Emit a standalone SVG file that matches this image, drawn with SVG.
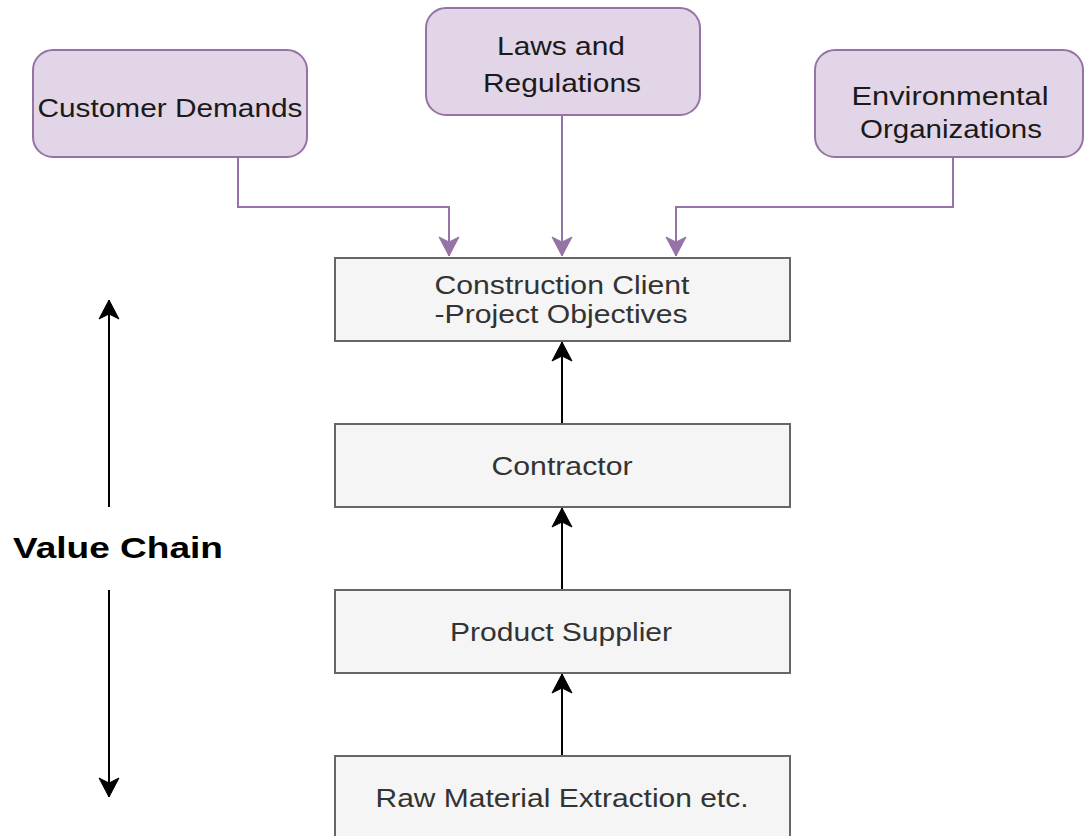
<svg xmlns="http://www.w3.org/2000/svg" width="1084" height="836" viewBox="0 0 1084 836">
<style>
.pbox{fill:#e1d5e7;stroke:#9673a6;stroke-width:2}
.gbox{fill:#f5f5f5;stroke:#666666;stroke-width:2}
.t{font-family:"Liberation Sans",Arial,Helvetica,sans-serif;font-size:25px;text-anchor:middle}
.tp{fill:#1a1a1a}
.tg{fill:#333333}
.pl{fill:none;stroke:#9673a6;stroke-width:2}
.bl{fill:none;stroke:#000000;stroke-width:2}
</style>
<defs>
<marker id="ap" viewBox="-21 -11 22 22" refX="0" refY="0" markerWidth="22" markerHeight="22" markerUnits="userSpaceOnUse" orient="auto">
<path d="M0,0 L-19,-10 L-14,0 L-19,10 Z" fill="#9673a6" stroke="#9673a6" stroke-width="1"/>
</marker>
<marker id="ab" viewBox="-21 -11 22 22" refX="0" refY="0" markerWidth="22" markerHeight="22" markerUnits="userSpaceOnUse" orient="auto">
<path d="M0,0 L-19,-10 L-14,0 L-19,10 Z" fill="#000000" stroke="#000000" stroke-width="1"/>
</marker>
</defs>
<rect width="1084" height="836" fill="#ffffff"/>
<g id="connectors">
<path class="pl" d="M238,157 V207 H449 V256" marker-end="url(#ap)"/>
<path class="pl" d="M562,115 V256" marker-end="url(#ap)"/>
<path class="pl" d="M953,157 V207 H676 V256" marker-end="url(#ap)"/>
<path class="bl" d="M562,424 V342" marker-end="url(#ab)"/>
<path class="bl" d="M562,590 V508" marker-end="url(#ab)"/>
<path class="bl" d="M562,756 V674" marker-end="url(#ab)"/>
<path class="bl" d="M109,507 V300" marker-end="url(#ab)"/>
<path class="bl" d="M109,590 V797" marker-end="url(#ab)"/>
</g>
<g id="customer-demands">
<rect class="pbox" x="33" y="50" width="274" height="107" rx="20" ry="20"/>
<text class="t tp" x="170" y="117" textLength="265" lengthAdjust="spacingAndGlyphs">Customer Demands</text>
</g>
<g id="laws-regulations">
<rect class="pbox" x="426" y="8" width="274" height="107" rx="20" ry="20"/>
<text class="t tp" x="561" y="55" textLength="128" lengthAdjust="spacingAndGlyphs">Laws and</text>
<text class="t tp" x="562" y="92" textLength="158" lengthAdjust="spacingAndGlyphs">Regulations</text>
</g>
<g id="environmental-organizations">
<rect class="pbox" x="815" y="50" width="268" height="107" rx="20" ry="20"/>
<text class="t tp" x="950" y="105" textLength="197" lengthAdjust="spacingAndGlyphs">Environmental</text>
<text class="t tp" x="951" y="138" textLength="182" lengthAdjust="spacingAndGlyphs">Organizations</text>
</g>
<g id="construction-client">
<rect class="gbox" x="335" y="258" width="455" height="83"/>
<text class="t tg" x="562" y="294" textLength="255" lengthAdjust="spacingAndGlyphs">Construction Client</text>
<text class="t tg" x="561" y="323" textLength="253" lengthAdjust="spacingAndGlyphs">-Project Objectives</text>
</g>
<g id="contractor">
<rect class="gbox" x="335" y="424" width="455" height="83"/>
<text class="t tg" x="562" y="475" textLength="141" lengthAdjust="spacingAndGlyphs">Contractor</text>
</g>
<g id="product-supplier">
<rect class="gbox" x="335" y="590" width="455" height="83"/>
<text class="t tg" x="561" y="641" textLength="222" lengthAdjust="spacingAndGlyphs">Product Supplier</text>
</g>
<g id="raw-material">
<rect class="gbox" x="335" y="756" width="455" height="83"/>
<text class="t tg" x="562" y="807" textLength="373" lengthAdjust="spacingAndGlyphs">Raw Material Extraction etc.</text>
</g>
<g id="value-chain">
<text x="118" y="558" font-family="Liberation Sans,Arial,Helvetica,sans-serif" font-size="30" font-weight="bold" text-anchor="middle" fill="#000000" textLength="210" lengthAdjust="spacingAndGlyphs">Value Chain</text>
</g>
</svg>
